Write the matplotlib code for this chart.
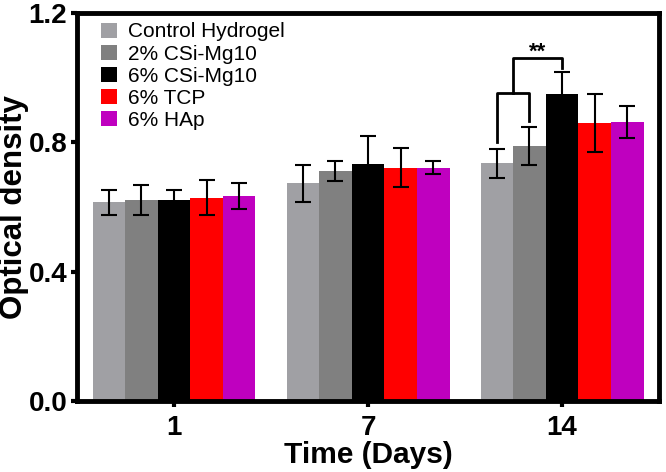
import numpy as np
import matplotlib
matplotlib.use("Agg")
import matplotlib.pyplot as plt

plt.rcParams["font.family"] = ["Liberation Sans", "DejaVu Sans"]

days = ["1", "7", "14"]
groups = ["Control Hydrogel", "2% CSi-Mg10", "6% CSi-Mg10", "6% TCP", "6% HAp"]
colors = ["#a0a0a4", "#808080", "#000000", "#ff0000", "#bf00bf"]

means = {
    "Control Hydrogel": [0.614, 0.673, 0.735],
    "2% CSi-Mg10":      [0.621, 0.712, 0.789],
    "6% CSi-Mg10":      [0.622, 0.734, 0.949],
    "6% TCP":           [0.629, 0.722, 0.859],
    "6% HAp":           [0.634, 0.722, 0.863],
}
errs = {
    "Control Hydrogel": [0.038, 0.058, 0.045],
    "2% CSi-Mg10":      [0.046, 0.030, 0.060],
    "6% CSi-Mg10":      [0.031, 0.087, 0.070],
    "6% TCP":           [0.054, 0.059, 0.090],
    "6% HAp":           [0.040, 0.019, 0.048],
}

fig = plt.figure(figsize=(6.66, 4.72), dpi=100)
ax = fig.add_axes([0.1156, 0.1504, 0.874, 0.822])

x = np.arange(len(days))
w = 0.168
for i, g in enumerate(groups):
    pos = x + (i - 2) * w
    ax.bar(pos, means[g], w, color=colors[i], label=g, zorder=2)
    ax.errorbar(pos, means[g], yerr=errs[g], fmt="none", ecolor="black",
                elinewidth=1.5, capsize=5.5, capthick=1.5, zorder=3)

# significance bracket on day 14
xc = x[2] + (0 - 2) * w
x2 = x[2] + (1 - 2) * w
x6 = x[2]
kw = dict(color="black", lw=2, zorder=4)
ax.plot([xc, xc, x2, x2], [0.802, 0.953, 0.953, 0.866], **kw)
xm = (xc + x2) / 2
ax.plot([xm, xm, x6, x6], [0.953, 1.06, 1.06, 1.031], **kw)
ax.text((xm + x6) / 2, 1.08, "**", ha="center", va="center", fontsize=16, fontweight="bold")

ax.set_xlim(-0.5, 2.5)
ax.set_ylim(0, 1.2)
ax.set_xticks(x)
ax.set_xticklabels(days)
ax.set_yticks([0.0, 0.4, 0.8, 1.2])
ax.set_yticklabels(["0.0", "0.4", "0.8", "1.2"])
for s in ax.spines.values():
    s.set_linewidth(3.5)
ax.tick_params(axis="both", width=3, length=4, labelsize=20, pad=3)
ax.tick_params(axis="x", pad=6)
for lab in ax.get_xticklabels() + ax.get_yticklabels():
    lab.set_fontweight("bold")

ax.set_xlabel("Time (Days)", fontsize=21.5, fontweight="bold", labelpad=0)
ax.set_ylabel("Optical density", fontsize=22.5, fontweight="bold")
ax.yaxis.set_label_coords(-0.082, 0.5)

ax.legend(loc="upper left", frameon=False, fontsize=15, handlelength=0.75,
          handleheight=0.75, handletextpad=0.55, labelspacing=0.15,
          borderaxespad=0.05, bbox_to_anchor=(0.025, 1.0))

fig.savefig("out.png", dpi=100)
